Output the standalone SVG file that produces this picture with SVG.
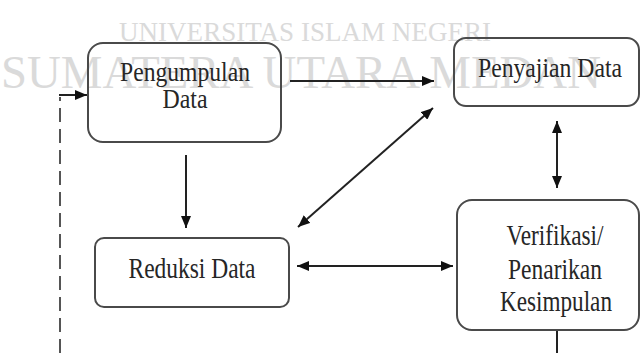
<svg xmlns="http://www.w3.org/2000/svg" width="642" height="353" viewBox="0 0 642 353">
<style>
.wm{font-family:"Liberation Serif","Times New Roman",serif;fill:#dadada}
.box{fill:none;stroke:#4a4a4a;stroke-width:2}
.t{font-family:"Liberation Serif","Times New Roman",serif;fill:#262626;text-anchor:middle}
.s{font-size:27px}
.l{font-size:30px}
.c{fill:none;stroke:#222;stroke-width:2}
.d{fill:none;stroke:#555;stroke-width:2;stroke-dasharray:14 7}
</style>
<defs>
<marker id="ah" viewBox="0 0 12 10" markerWidth="12" markerHeight="10" markerUnits="userSpaceOnUse" refX="12" refY="5" orient="auto-start-reverse">
<path d="M0,0 L12,5 L0,10 z" fill="#111"/>
</marker>
</defs>
<rect width="642" height="353" fill="#fff"/>
<g id="watermark">
<text class="wm" x="119" y="41" font-size="27" textLength="372" lengthAdjust="spacingAndGlyphs">UNIVERSITAS ISLAM NEGERI</text>
<text class="wm" x="1" y="88" font-size="47" textLength="600" lengthAdjust="spacingAndGlyphs">SUMATERA UTARA MEDAN</text>
</g>
<g id="connectors">
<line class="c" x1="290" y1="81" x2="434" y2="81" marker-end="url(#ah)"/>
<line class="c" x1="186" y1="155" x2="186" y2="228" marker-end="url(#ah)"/>
<line class="c" x1="298" y1="227" x2="433" y2="108" marker-start="url(#ah)" marker-end="url(#ah)"/>
<line class="c" x1="557" y1="121" x2="557" y2="188" marker-start="url(#ah)" marker-end="url(#ah)"/>
<line class="c" x1="297" y1="266" x2="453" y2="266" marker-start="url(#ah)" marker-end="url(#ah)"/>
<line class="c" x1="557" y1="330" x2="557" y2="353"/>
<line class="d" x1="60" y1="353" x2="60" y2="97"/>
<line class="c" x1="59" y1="95" x2="87" y2="95" marker-end="url(#ah)"/>
</g>
<g id="pengumpulan">
<rect class="box" x="88" y="43" width="193" height="99" rx="15"/>
<text class="t s" x="185" y="81" textLength="130" lengthAdjust="spacingAndGlyphs">Pengumpulan</text>
<text class="t s" x="185" y="108" textLength="45" lengthAdjust="spacingAndGlyphs">Data</text>
</g>
<g id="penyajian">
<rect class="box" x="454" y="38" width="185" height="68" rx="12"/>
<text class="t s" x="550" y="77" textLength="144" lengthAdjust="spacingAndGlyphs">Penyajian Data</text>
</g>
<g id="reduksi">
<rect class="box" x="95" y="238" width="194" height="69" rx="9"/>
<text class="t l" x="192" y="278" textLength="127" lengthAdjust="spacingAndGlyphs">Reduksi Data</text>
</g>
<g id="verifikasi">
<rect class="box" x="457" y="200" width="182" height="130" rx="15"/>
<text class="t l" x="555" y="245" textLength="97" lengthAdjust="spacingAndGlyphs">Verifikasi/</text>
<text class="t l" x="555" y="279" textLength="94" lengthAdjust="spacingAndGlyphs">Penarikan</text>
<text class="t l" x="556" y="311" textLength="112" lengthAdjust="spacingAndGlyphs">Kesimpulan</text>
</g>
</svg>
